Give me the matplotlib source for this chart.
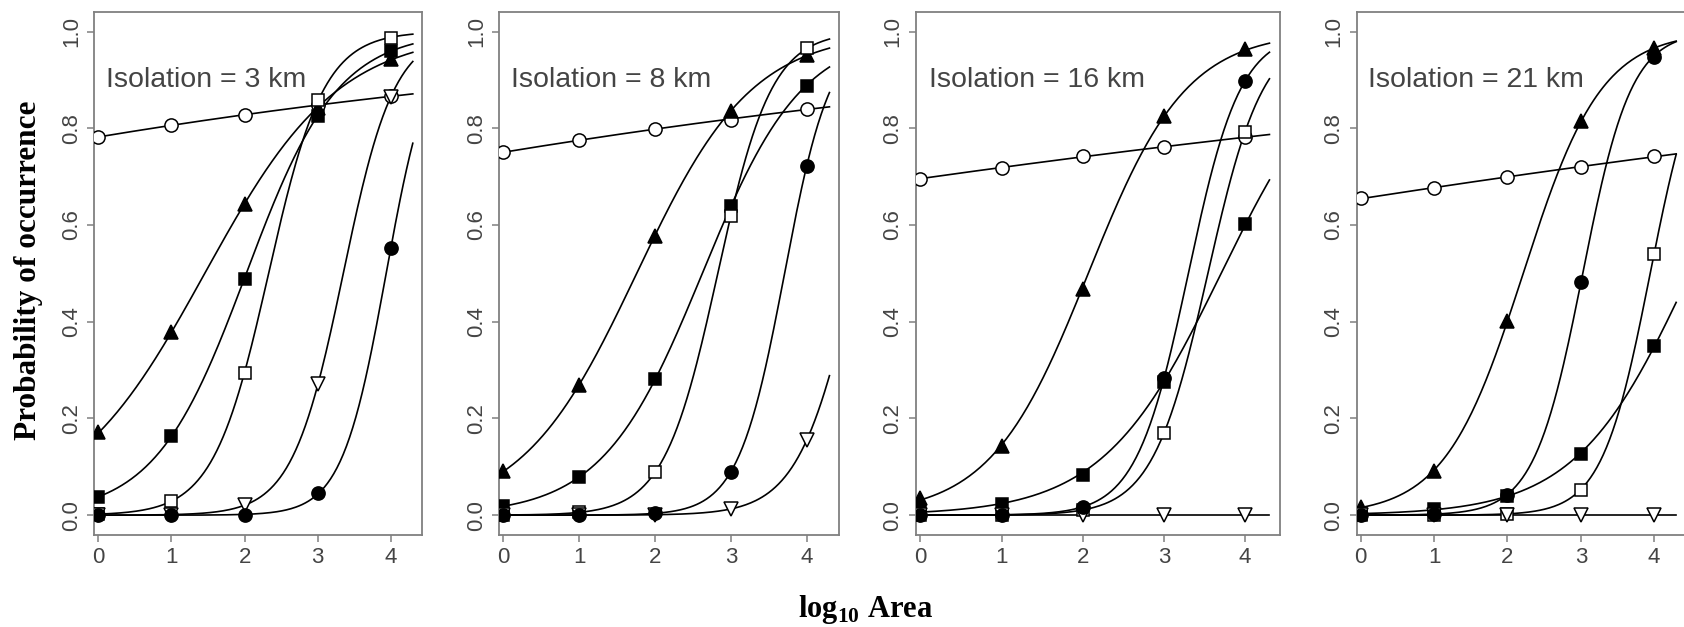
import numpy as np
import matplotlib
matplotlib.use('Agg')
import matplotlib.pyplot as plt

# probability of occurrence read at log10 area = 0..4, one row per isolation panel
log_area = [0, 1, 2, 3, 4]
isolation = ['3 km', '8 km', '16 km', '21 km']

open_circle = [[0.782, 0.806, 0.828, 0.848, 0.866],
               [0.751, 0.775, 0.798, 0.818, 0.840],
               [0.696, 0.718, 0.742, 0.762, 0.781],
               [0.655, 0.677, 0.699, 0.720, 0.742]]
filled_triangle = [[0.171, 0.378, 0.643, 0.842, 0.943],
                   [0.092, 0.269, 0.578, 0.836, 0.951],
                   [0.035, 0.143, 0.468, 0.825, 0.963],
                   [0.016, 0.092, 0.402, 0.814, 0.965]]
filled_square = [[0.038, 0.164, 0.489, 0.826, 0.960],
                 [0.018, 0.079, 0.281, 0.640, 0.888],
                 [0.009, 0.024, 0.084, 0.275, 0.603],
                 [0.003, 0.012, 0.040, 0.126, 0.350]]
open_square = [[0.002, 0.030, 0.293, 0.858, 0.987],
               [0.000, 0.006, 0.090, 0.618, 0.965],
               [0.000, 0.001, 0.010, 0.170, 0.793],
               [0.000, 0.000, 0.003, 0.053, 0.541]]
open_down_triangle = [[0.000, 0.001, 0.020, 0.271, 0.864],
                      [0.000, 0.000, 0.001, 0.013, 0.155],
                      [0.000, 0.000, 0.000, 0.000, 0.000],
                      [0.000, 0.000, 0.000, 0.000, 0.000]]
filled_circle = [[0.000, 0.000, 0.001, 0.045, 0.552],
                 [0.000, 0.000, 0.004, 0.090, 0.722],
                 [0.000, 0.001, 0.016, 0.284, 0.897],
                 [0.000, 0.002, 0.042, 0.483, 0.948]]

species = [(open_circle, 'o', 'white', 9.5),
           (filled_triangle, '^', 'black', 10),
           (filled_square, 's', 'black', 8.5),
           (open_square, 's', 'white', 8.5),
           (open_down_triangle, 'v', 'white', 10),
           (filled_circle, 'o', 'black', 9.5)]


def logit_fit(x, y):
    # quasi-binomial logistic fit (IRLS), like glm in R
    X = np.column_stack([np.ones_like(x), x])
    b = np.zeros(2)
    for _ in range(60):
        eta = X @ b
        p = 1 / (1 + np.exp(-eta))
        w = np.clip(p * (1 - p), 1e-12, None)
        z = eta + (y - p) / w
        b = np.linalg.solve(X.T @ (w[:, None] * X), X.T @ (w * z))
    return b


plt.rcParams['font.family'] = ['Liberation Sans', 'DejaVu Sans']
plt.rcParams['mathtext.fontset'] = 'custom'
plt.rcParams['mathtext.bf'] = 'Liberation Serif:bold'
plt.rcParams['mathtext.rm'] = 'Liberation Serif:bold'

fig = plt.figure(figsize=(16.84, 6.27), dpi=100)
lefts = [94.3, 499.3, 916.0, 1356.7]
widths = [328, 340, 364, 329]
W, H = 1684, 627
bottom = 1 - 535 / H
height = (535 - 11.7) / H
grey = '#808080'
x = np.array(log_area, dtype=float)
xs = np.linspace(0, 4.3, 200)

for k in range(4):
    ax = fig.add_axes([lefts[k] / W, bottom, widths[k] / W, height])
    for data, m, fc, ms in species:
        y = np.array(data[k])
        if y.max() < 0.005:
            ys = np.zeros_like(xs)
        else:
            b0, b1 = logit_fit(x, y)
            ys = 1 / (1 + np.exp(-(b0 + b1 * xs)))
        ax.plot(xs, ys, color='black', lw=1.2, zorder=2)
        ax.plot(x, y, ls='none', marker=m, ms=ms, mfc=fc, mec='black',
                mew=1.1, zorder=3)
    ax.set_xlim(-0.055, 4.43)
    ax.set_ylim(-0.041, 1.041)
    ax.set_xticks([0, 1, 2, 3, 4])
    ax.set_yticks([0, 0.2, 0.4, 0.6, 0.8, 1.0])
    ax.set_yticklabels(['0.0', '0.2', '0.4', '0.6', '0.8', '1.0'])
    for s in ax.spines.values():
        s.set_color(grey)
        s.set_linewidth(1.3)
    ax.tick_params(colors=grey, labelcolor='#444444', labelsize=16,
                   length=5, width=1.1)
    ax.tick_params(axis='y', labelrotation=90, pad=4)
    for t in ax.get_yticklabels():
        t.set_va('center')
    ax.text(0.1, 0.9, 'Isolation = ' + isolation[k], fontsize=20.5,
            color='#444444', va='center', ha='left')

fig.text(29 / W, 1 - 270 / H, 'Probability of occurrence', rotation=90,
         ha='center', va='center', family='Liberation Serif',
         fontweight='bold', fontsize=22.5)
fig.text(866 / W, 1 - 609 / H, r'log$_{10}$ Area',
         ha='center', va='center', family='Liberation Serif',
         fontweight='bold', fontsize=22)

plt.savefig('out.png', dpi=100)
